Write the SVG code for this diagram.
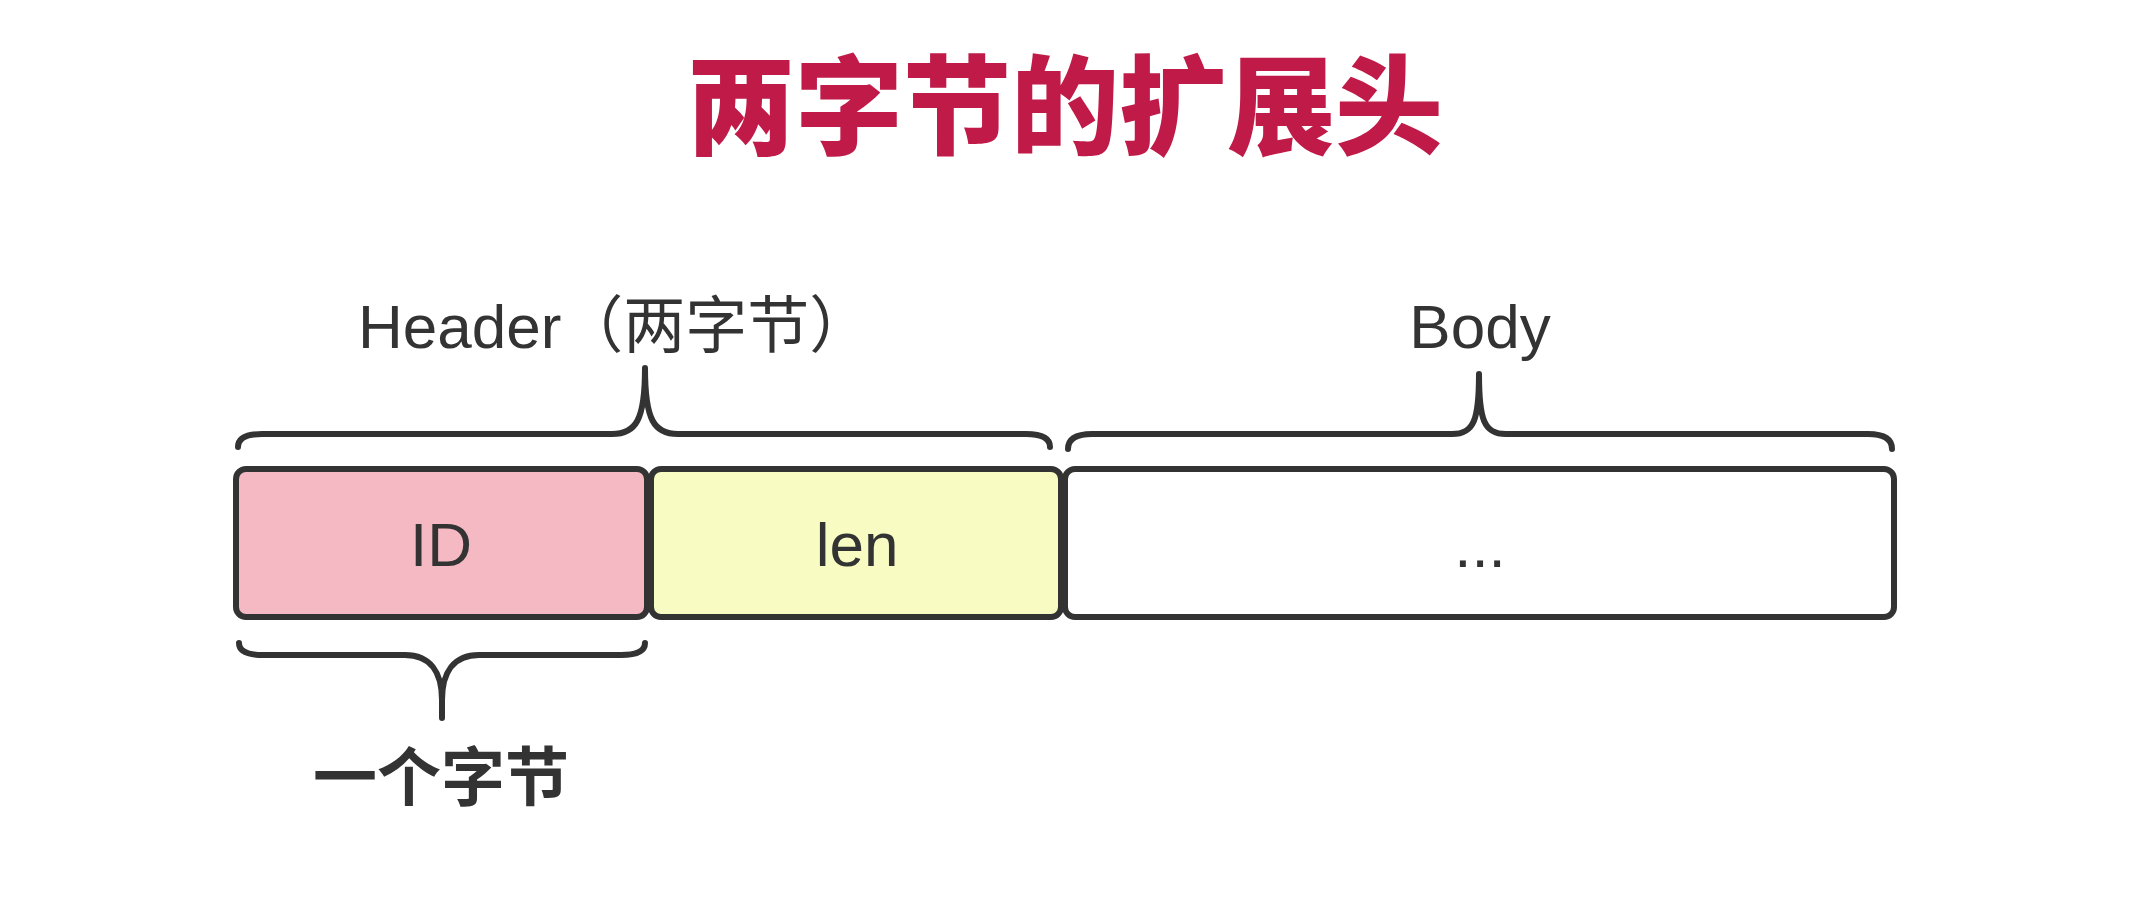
<svg xmlns="http://www.w3.org/2000/svg" width="2140" height="918" viewBox="0 0 2140 918">
  <style>
    .lbl { font-family: "Liberation Sans", "Noto Sans CJK SC", sans-serif; fill: #333333; }
    .cjk { font-family: "Noto Sans CJK SC", sans-serif; }
    .box { stroke: #333333; stroke-width: 6; }
    .brace { fill: none; stroke: #333333; stroke-width: 6; stroke-linecap: round; stroke-linejoin: round; }
  </style>
  <rect x="0" y="0" width="2140" height="918" fill="#ffffff"/>

  <g id="title">
    <text x="1065" y="146" text-anchor="middle" class="cjk" font-size="108" font-weight="900" fill="#c01a48">两字节的扩展头</text>
  </g>

  <g id="header-label">
    <text x="358" y="348" class="lbl" font-size="62">Header（两字节）</text>
  </g>

  <g id="body-label">
    <text x="1480" y="348" text-anchor="middle" class="lbl" font-size="62">Body</text>
  </g>

  <g id="node-id">
    <rect class="box" x="236" y="469" width="411" height="148" rx="10" ry="10" fill="#f5b9c4"/>
    <text x="441" y="566" text-anchor="middle" class="lbl" font-size="62">ID</text>
  </g>

  <g id="node-len">
    <rect class="box" x="651" y="469" width="410" height="148" rx="10" ry="10" fill="#f8fcc3"/>
    <text x="857" y="566" text-anchor="middle" class="lbl" font-size="62">len</text>
  </g>

  <g id="node-body">
    <rect class="box" x="1065" y="469" width="829" height="148" rx="10" ry="10" fill="#ffffff"/>
    <text x="1480" y="567" text-anchor="middle" class="lbl" font-size="62">...</text>
  </g>

  <g id="one-byte-label">
    <text x="441" y="800" text-anchor="middle" class="cjk" font-size="64" font-weight="bold" fill="#333333">一个字节</text>
  </g>

  <g id="connectors">
    <path class="brace" d="M238,447 C238,438 246,434 262,434 L612,434 C636,434 645,420 645,368 C645,420 654,434 678,434 L1026,434 C1042,434 1050,438 1050,447"/>
    <path class="brace" d="M1068,449 C1068,439 1076,434 1092,434 L1452,434 C1474,434 1479,420 1479,374 C1479,420 1484,434 1506,434 L1868,434 C1884,434 1892,439 1892,449"/>
    <path class="brace" d="M239,643 C239,651 247,655 263,655 L405,655 C430,655 442,672 442,700 L442,718 M442,700 C442,672 454,655 479,655 L621,655 C637,655 645,651 645,643"/>
  </g>
</svg>
